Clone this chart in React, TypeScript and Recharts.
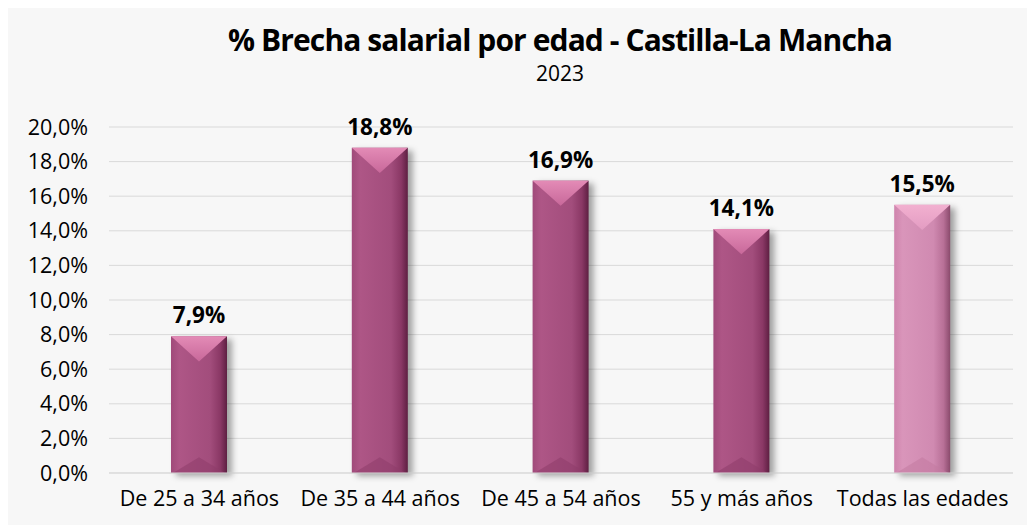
import { BarChart, Bar, XAxis, YAxis, CartesianGrid, LabelList } from "recharts"

const categories = ["De 25 a 34 años", "De 35 a 44 años", "De 45 a 54 años", "55 y más años", "Todas las edades"]
const brecha = [7.9, 18.8, 16.9, 14.1, 15.5]
const yTicks = [0, 2, 4, 6, 8, 10, 12, 14, 16, 18, 20]

const data = categories.map((name, i) => ({ name, value: brecha[i] }))

const FONT = "'Open Sans', 'Noto Sans', sans-serif"

const fmt = (v: number) => v.toFixed(1).replace(".", ",") + "%"

function BevelBar(props: any) {
  const { x, y, width: w, height: h, index } = props
  if (h <= 0) return null
  const light = index === categories.length - 1
  const id = light ? "L" : "D"
  const d = Math.min(w * 0.45, h / 2)
  const d2 = Math.min(w * 0.28, h / 2)
  return (
    <g>
      <rect x={x + 5} y={y + 3} width={w} height={h} fill="rgba(0,0,0,0.35)" filter="url(#shadowBlur)" />
      <rect x={x} y={y} width={w} height={h} fill={`url(#body${id})`} />
      <polygon points={`${x},${y} ${x + w},${y} ${x + w / 2},${y + d}`} fill={`url(#top${id})`} />
      <polygon points={`${x + 2},${y + h} ${x + w - 2},${y + h} ${x + w / 2},${y + h - d2}`} fill={light ? "#c27aa0" : "#8e3c69"} opacity={0.55} />
    </g>
  )
}

export default function App() {
  return (
    <div style={{ position: "relative", width: 1027, height: 517, background: "#f7f7f7", fontFamily: FONT }}>
      <div style={{ position: "absolute", left: 0, width: 1104, top: 11, textAlign: "center", fontSize: 30, fontWeight: 700, color: "#000", letterSpacing: -0.9 }}>
        % Brecha salarial por edad - Castilla-La Mancha
      </div>
      <div style={{ position: "absolute", left: 0, width: 1104, top: 51, textAlign: "center", fontSize: 21, color: "#000" }}>
        2023
      </div>
      <BarChart width={1027} height={517} data={data} margin={{ top: 119, right: 22, bottom: 22, left: 0 }} barCategoryGap={0}>
        <defs>
          <filter id="shadowBlur" x="-50%" y="-10%" width="200%" height="120%">
            <feGaussianBlur stdDeviation="3" />
          </filter>
          <linearGradient id="bodyD" x1="0" y1="0" x2="1" y2="0">
            <stop offset="0%" stopColor="#a04a7a" />
            <stop offset="15%" stopColor="#ae5686" />
            <stop offset="70%" stopColor="#a24d7c" />
            <stop offset="88%" stopColor="#8a3865" />
            <stop offset="100%" stopColor="#5e1f42" />
          </linearGradient>
          <linearGradient id="topD" x1="0" y1="0" x2="0" y2="1">
            <stop offset="0%" stopColor="#e38bb6" />
            <stop offset="100%" stopColor="#c8689a" />
          </linearGradient>
          <linearGradient id="bodyL" x1="0" y1="0" x2="1" y2="0">
            <stop offset="0%" stopColor="#cf84ad" />
            <stop offset="15%" stopColor="#d995ba" />
            <stop offset="70%" stopColor="#d08ab1" />
            <stop offset="88%" stopColor="#b87097" />
            <stop offset="100%" stopColor="#8a4a6c" />
          </linearGradient>
          <linearGradient id="topL" x1="0" y1="0" x2="0" y2="1">
            <stop offset="0%" stopColor="#f2b0d0" />
            <stop offset="100%" stopColor="#e39cc2" />
          </linearGradient>
        </defs>
        <CartesianGrid vertical={false} stroke="#d9d9d9" strokeWidth={1} />
        <XAxis
          dataKey="name"
          height={30}
          axisLine={{ stroke: "#d9d9d9" }}
          tickLine={false}
          tickMargin={12}
          tick={{ fill: "#000", fontSize: 21.5, fontFamily: FONT }}
          interval={0}
        />
        <YAxis
          width={101}
          domain={[0, 20]}
          ticks={yTicks}
          axisLine={false}
          tickLine={false}
          tickSize={0}
          tickMargin={21}
          tickFormatter={fmt}
          tick={{ fill: "#000", fontSize: 21.5, fontFamily: FONT }}
        />
        <Bar dataKey="value" barSize={56} shape={(p: any) => <BevelBar {...p} />} isAnimationActive={false}>
          <LabelList dataKey="value" position="top" offset={13} formatter={(v: any) => fmt(Number(v))} style={{ fill: "#000", fontSize: 22.5, fontWeight: 700, fontFamily: FONT }} />
        </Bar>
      </BarChart>
    </div>
  )
}
